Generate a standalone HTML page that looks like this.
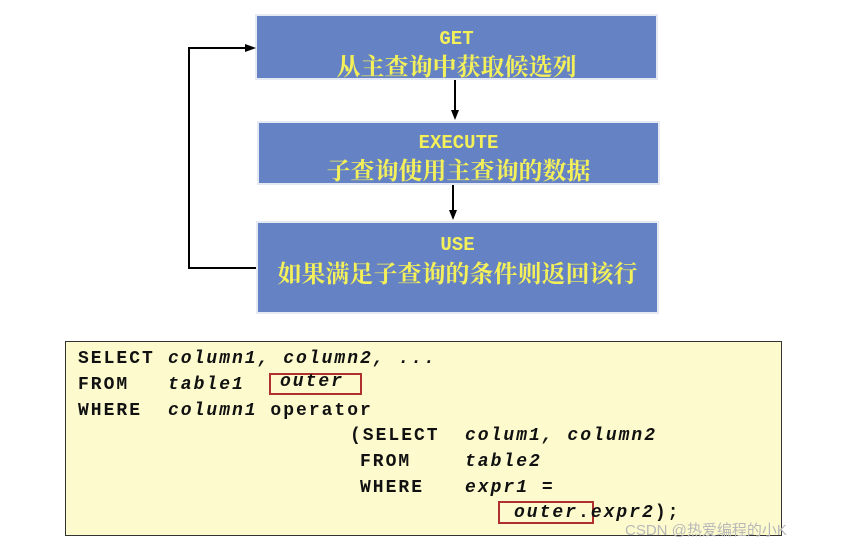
<!DOCTYPE html>
<html><head><meta charset="utf-8"><style>
body{margin:0;width:845px;height:548px;background:#fff;position:relative;overflow:hidden;font-family:"Liberation Serif","Noto Serif CJK SC",serif}
.box{position:absolute;background:#6482c4;border:2px solid #e4e9f4;box-sizing:border-box;color:#f4f05a;text-align:center}
.t{font-family:"Liberation Mono",monospace;font-weight:bold;font-size:19px}
.c{font-family:"Noto Serif CJK SC","Noto Sans CJK SC",serif;font-size:24px;font-weight:bold;line-height:30px}
.code{position:absolute;left:65px;top:341px;width:717px;height:195px;background:#fdfbce;border:1px solid #333;box-sizing:border-box}
.l{position:absolute;font-family:"Liberation Mono",monospace;font-weight:bold;font-size:18px;letter-spacing:2px;color:#111;white-space:pre;line-height:20px}
i{font-style:italic}
.rb{position:absolute;border:2px solid #b03030;box-sizing:border-box}
</style></head><body>
<div class="box" style="left:255px;top:14px;width:403px;height:66px"><div class="t" style="margin-top:12px">GET</div><div class="c" style="margin-top:0px">从主查询中获取候选列</div></div>
<div class="box" style="left:257px;top:121px;width:403px;height:64px"><div class="t" style="margin-top:9px">EXECUTE</div><div class="c" style="margin-top:0px">子查询使用主查询的数据</div></div>
<div class="box" style="left:256px;top:221px;width:403px;height:93px"><div class="t" style="margin-top:11px">USE</div><div class="c" style="margin-top:1px">如果满足子查询的条件则返回该行</div></div>
<svg width="845" height="548" style="position:absolute;left:0;top:0">
<path d="M256 268 H189 V48 H248" fill="none" stroke="#000" stroke-width="2"/>
<path d="M256 48 L245 44 L245 52Z" fill="#000"/>
<path d="M455 80 V112" stroke="#000" stroke-width="2"/><path d="M455 120 L451 110 L459 110Z" fill="#000"/>
<path d="M453 185 V212" stroke="#000" stroke-width="2"/><path d="M453 220 L449 210 L457 210Z" fill="#000"/>
</svg>
<div class="code"></div>
<div class="l" style="left:78px;top:349px">SELECT</div><div class="l" style="left:168px;top:349px"><i>column1, column2, ...</i></div>
<div class="l" style="left:78px;top:375px">FROM</div><div class="l" style="left:168px;top:375px"><i>table1</i></div>
<div class="rb" style="left:269px;top:373px;width:93px;height:22px"></div><div class="l" style="left:280px;top:372px"><i>outer</i></div>
<div class="l" style="left:78px;top:401px">WHERE</div><div class="l" style="left:168px;top:401px"><i>column1</i> operator</div>
<div class="l" style="left:350px;top:426px">(SELECT</div><div class="l" style="left:465px;top:426px"><i>colum1, column2</i></div>
<div class="l" style="left:360px;top:452px">FROM</div><div class="l" style="left:465px;top:452px"><i>table2</i></div>
<div class="l" style="left:360px;top:478px">WHERE</div><div class="l" style="left:465px;top:478px"><i>expr1</i> =</div>
<div class="rb" style="left:498px;top:501px;width:96px;height:23px"></div><div class="l" style="left:514px;top:503px"><i>outer</i>.<i>expr2</i>);</div>
<div style="position:absolute;left:625px;top:519px;font-family:'Liberation Sans','Noto Sans CJK SC',sans-serif;font-size:15px;color:#b8b8b8">CSDN @热爱编程的小K</div>
</body></html>
